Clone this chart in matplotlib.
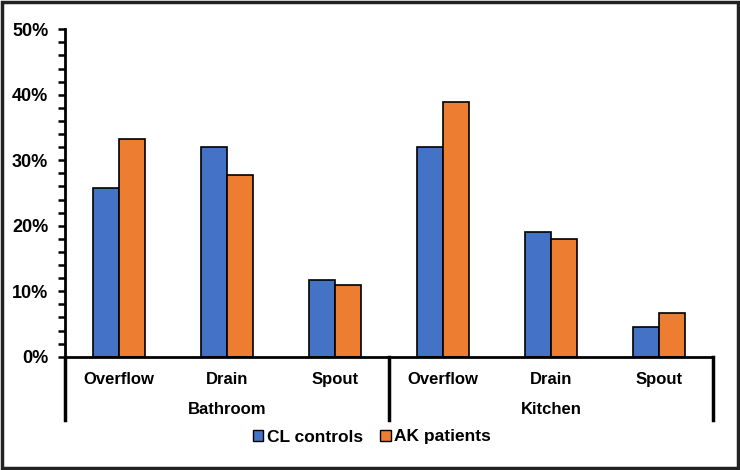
import numpy as np
import matplotlib.pyplot as plt
from matplotlib.ticker import PercentFormatter, MultipleLocator
from matplotlib.patches import Patch, Rectangle
import matplotlib.transforms as mtransforms

plt.rcParams['font.family'] = ['Liberation Sans', 'DejaVu Sans']
plt.rcParams['font.weight'] = 'bold'

locations = ['Overflow', 'Drain', 'Spout', 'Overflow', 'Drain', 'Spout']
groups = ['Bathroom', 'Kitchen']
cl_controls = [25.8, 32.0, 11.7, 32.0, 19.1, 4.5]
ak_patients = [33.3, 27.7, 11.0, 38.9, 18.0, 6.6]

blue = '#4472C4'
orange = '#ED7D31'

fig = plt.figure(figsize=(7.4, 4.7), dpi=100)
ax = fig.add_axes([65 / 740, 1 - 356.7 / 470, 648 / 740, (356.7 - 29.3) / 470])

x = np.arange(len(locations))
w = 0.24
ax.bar(x - w / 2, cl_controls, w, color=blue, edgecolor='black', linewidth=1.2)
ax.bar(x + w / 2, ak_patients, w, color=orange, edgecolor='black', linewidth=1.2)

ax.set_xlim(-0.5, len(locations) - 0.5)
ax.set_ylim(0, 50)
ax.yaxis.set_major_locator(MultipleLocator(10))
ax.yaxis.set_minor_locator(MultipleLocator(2))
ax.yaxis.set_major_formatter(PercentFormatter(decimals=0))
ax.tick_params(axis='y', which='both', direction='out', length=5, width=1.8,
               labelsize=13, pad=7)
ax.set_xticks(x)
ax.set_xticklabels(locations, fontsize=12, fontweight='bold')
ax.tick_params(axis='x', length=0, pad=11)

for s in ['top', 'right']:
    ax.spines[s].set_visible(False)
for s in ['left', 'bottom']:
    ax.spines[s].set_linewidth(2)

# group separators below the axis
trans = mtransforms.blended_transform_factory(ax.transData, ax.transAxes)
line_bottom = -(420 - 356.7) / (356.7 - 29.3)
for xv in [-0.5, 2.5, 5.5]:
    ax.plot([xv, xv], [0, line_bottom], color='black', lw=2.5,
            transform=trans, clip_on=False)
label_y = -(409 - 356.7) / (356.7 - 29.3)
for i, g in enumerate(groups):
    ax.text(3 * i + 1, label_y, g, transform=trans, ha='center', va='center',
            fontsize=12, fontweight='bold')

handles = [Patch(facecolor=blue, edgecolor='black', label='CL controls'),
           Patch(facecolor=orange, edgecolor='black', label='AK patients')]
fig.legend(handles=handles, loc='center', bbox_to_anchor=(372 / 740, 1 - 437 / 470),
           ncol=2, frameon=False, fontsize=12.5, handlelength=0.6, handleheight=0.6,
           handletextpad=0.2, columnspacing=1.0)

fig.patches.append(Rectangle((0.003, 0.004), 0.994, 0.992, transform=fig.transFigure,
                             fill=False, edgecolor='#222222', linewidth=2.5))

fig.savefig('out.png', dpi=100)
